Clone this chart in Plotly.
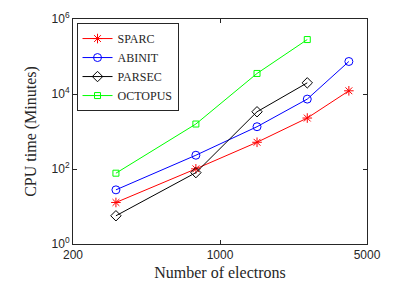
import plotly.graph_objects as go

electrons = [320, 768, 1500, 2600, 4100]
sparc = [12.8, 101, 516, 2285, 12170]
abinit = [27.8, 233, 1342, 7310, 73600]
parsec = [5.66, 80, 3362, 19860]
octopus = [77.3, 1582, 35300, 283000]

x_ticks = [200, 1000, 5000]
y_ticks = [1, 100, 10000, 1000000]
y_tick_text = ["10<sup>0</sup>", "10<sup>2</sup>", "10<sup>4</sup>", "10<sup>6</sup>"]

series = [
    ("SPARC", sparc, "#FF0000", "asterisk-open", 8),
    ("ABINIT", abinit, "#0000FF", "circle-open", 8),
    ("PARSEC", parsec, "#000000", "diamond-open", 8),
    ("OCTOPUS", octopus, "#00FF00", "square-open", 6),
]

SERIF = "Liberation Serif, DejaVu Serif, serif"
SANS = "Liberation Sans, Arial, sans-serif"

fig = go.Figure()
for name, vals, color, sym, size in series:
    fig.add_trace(go.Scatter(
        x=electrons[:len(vals)], y=vals, name=name, mode="lines+markers",
        line=dict(color=color, width=1),
        marker=dict(symbol=sym, size=size, color=color, line=dict(color=color, width=1)),
    ))

axis_common = dict(
    showline=True, linecolor="#262626", linewidth=1, mirror="ticks",
    ticks="inside", ticklen=4, tickcolor="#262626", showgrid=False, zeroline=False,
    automargin=False,
    tickfont=dict(family=SANS, size=12, color="#262626"),
)

fig.update_layout(
    width=399, height=299,
    margin=dict(l=73, r=32, t=19, b=55),
    paper_bgcolor="white", plot_bgcolor="white",
    showlegend=True,
    legend=dict(
        x=0.012, y=0.982, xanchor="left", yanchor="top",
        bgcolor="white", bordercolor="#262626", borderwidth=1,
        font=dict(family=SERIF, size=12, color="#262626"),
        tracegroupgap=0, itemwidth=30,
    ),
    xaxis=dict(
        type="log", range=[2.30103, 3.69897], tickvals=x_ticks,
        ticktext=[str(v) for v in x_ticks],
        title=dict(text="Number of electrons", standoff=5,
                   font=dict(family=SERIF, size=16, color="#262626")),
        **axis_common,
    ),
    yaxis=dict(
        type="log", range=[0, 6], tickvals=y_ticks, ticktext=y_tick_text,
        title=dict(text="CPU time (Minutes)", standoff=10,
                   font=dict(family=SERIF, size=16, color="#262626")),
        **axis_common,
    ),
)

fig.write_html("out.html", config={"displayModeBar": False},
               post_script="document.body.style.margin='0';document.body.style.overflow='hidden';")
